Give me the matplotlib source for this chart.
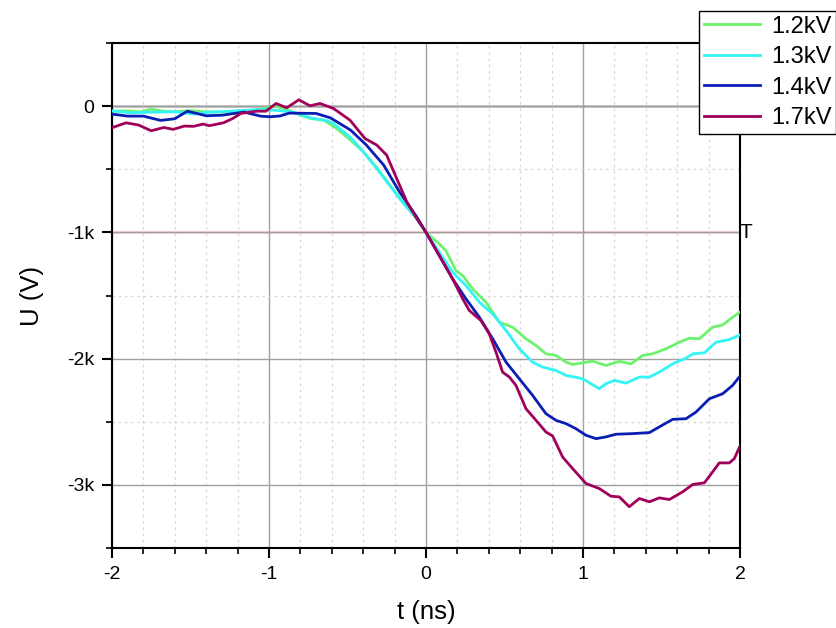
import numpy as np
import matplotlib
matplotlib.use("Agg")
from matplotlib import pyplot as plt
from matplotlib.ticker import MultipleLocator, FixedLocator

# --- data (t in ns, U in V) ---
t12 = [-2.0, -1.91, -1.82, -1.75, -1.67, -1.6, -1.5, -1.4, -1.3, -1.2, -1.1, -0.96, -0.89,
       -0.8, -0.74, -0.65, -0.57, -0.48, -0.4, -0.31, -0.23, -0.15, -0.06, 0.0,
       0.085, 0.127, 0.191, 0.234, 0.297, 0.382, 0.467, 0.552, 0.637, 0.701, 0.764, 0.828,
       0.892, 0.934, 0.998, 1.062, 1.146, 1.231, 1.306, 1.38, 1.444, 1.529, 1.614, 1.677,
       1.741, 1.826, 1.89, 1.953, 2.0]
u12 = [-40, -37, -45, -24, -40, -45, -35, -45, -47, -40, -35, 0, -25,
       -71, -97, -111, -176, -269, -361, -493, -625, -756, -888, -1000,
       -1092, -1145, -1303, -1343, -1448, -1553, -1711, -1751, -1843, -1896, -1962, -1975,
       -2028, -2046, -2033, -2020, -2054, -2022, -2041, -1975, -1962, -1922, -1870, -1838,
       -1843, -1751, -1733, -1672, -1632]

t13 = [-2.0, -1.88, -1.75, -1.6, -1.48, -1.4, -1.2, -1.05, -0.94, -0.85, -0.72, -0.63, -0.59,
       -0.48, -0.4, -0.31, -0.23, -0.15, -0.06, 0.0,
       0.085, 0.17, 0.255, 0.34, 0.425, 0.51, 0.594, 0.679, 0.743, 0.828, 0.892, 0.998,
       1.051, 1.104, 1.146, 1.2, 1.274, 1.359, 1.423, 1.486, 1.571, 1.656, 1.699, 1.773,
       1.847, 1.932, 2.0]
u13 = [-37, -53, -48, -45, -63, -50, -37, -26, -35, -47, -97, -116, -137,
       -250, -360, -500, -630, -760, -890, -1000,
       -1158, -1316, -1422, -1553, -1646, -1777, -1922, -2028, -2067, -2094, -2133, -2159,
       -2199, -2238, -2199, -2173, -2194, -2146, -2146, -2107, -2041, -1996, -1962, -1954,
       -1870, -1849, -1812]

t14 = [-2.0, -1.9, -1.8, -1.69, -1.6, -1.52, -1.4, -1.3, -1.16, -1.05, -0.99, -0.93, -0.87,
       -0.7, -0.61, -0.48, -0.38, -0.27, -0.17, -0.06, 0.0,
       0.085, 0.17, 0.255, 0.34, 0.425, 0.51, 0.594, 0.679, 0.764, 0.828, 0.892, 0.955,
       1.019, 1.083, 1.146, 1.21, 1.316, 1.423, 1.486, 1.571, 1.656, 1.72, 1.805, 1.89,
       1.953, 2.0]
u14 = [-63, -79, -79, -113, -100, -40, -76, -72, -47, -80, -84, -78, -55,
       -58, -92, -190, -308, -466, -677, -875, -1000,
       -1184, -1369, -1527, -1672, -1843, -2028, -2159, -2291, -2436, -2489, -2515, -2555,
       -2607, -2634, -2620, -2599, -2594, -2586, -2541, -2481, -2476, -2423, -2318, -2278,
       -2212, -2138]

t17 = [-2.0, -1.91, -1.83, -1.75, -1.67, -1.61, -1.54, -1.48, -1.42, -1.38, -1.29, -1.23,
       -1.18, -1.08, -1.02, -0.955, -0.887, -0.81, -0.739, -0.675, -0.59, -0.484, -0.389,
       -0.314, -0.251, -0.187, -0.123, -0.06, 0.0,
       0.085, 0.17, 0.234, 0.276, 0.35, 0.403, 0.446, 0.488, 0.531, 0.573, 0.637, 0.701,
       0.764, 0.807, 0.87, 0.934, 1.019, 1.104, 1.178, 1.231, 1.295, 1.359, 1.423, 1.486,
       1.55, 1.635, 1.699, 1.773, 1.826, 1.868, 1.932, 1.964, 2.0]
u17 = [-171, -132, -150, -195, -169, -184, -158, -160, -142, -155, -132, -97,
       -58, -40, -40, 21, -13, 50, 3, 21, -18, -111, -256,
       -308, -387, -572, -756, -888, -1000,
       -1184, -1369, -1527, -1619, -1698, -1804, -1949, -2107, -2146, -2212, -2397, -2489,
       -2581, -2613, -2779, -2871, -2989, -3029, -3090, -3095, -3173, -3108, -3134, -3103,
       -3116, -3055, -2997, -2984, -2897, -2826, -2826, -2792, -2692]

labels = ["1.2kV", "1.3kV", "1.4kV", "1.7kV"]
colors = ["#6ef26e", "#33f4f4", "#0a1eb4", "#a0005a"]
trigger = -1000

y_ticks = [0, -1000, -2000, -3000]
y_ticklabels = ["0", "-1k", "-2k", "-3k"]


def main():
    plt.rcParams['font.family'] = ['Liberation Sans', 'DejaVu Sans']
    plt.rcParams['axes.unicode_minus'] = False
    fig = plt.figure(figsize=(8.37, 6.28), dpi=100)
    ax = fig.add_axes([0.1338, 0.1274, 0.7503, 0.8041])

    # grids
    ax.xaxis.set_minor_locator(MultipleLocator(0.2))
    ax.yaxis.set_minor_locator(MultipleLocator(500))
    ax.grid(which='minor', color='#d6d6d6', lw=0.9, ls=(0, (2, 3)))
    ax.grid(which='major', color='#a0a0a0', lw=1.0)
    ax.axhline(0, color='#c4c4c4', lw=2, zorder=1)
    ax.axhline(trigger, color='#e03030', lw=1.0, zorder=1)

    for t, u, lab, c in [(t12, u12, labels[0], colors[0]), (t13, u13, labels[1], colors[1]),
                         (t14, u14, labels[2], colors[2]), (t17, u17, labels[3], colors[3])]:
        ax.plot(t, u, color=c, lw=2, label=lab, zorder=3, solid_joinstyle='round')

    ax.set_xlim(-2, 2)
    ax.set_ylim(-3500, 500)
    ax.set_xticks([-2, -1, 0, 1, 2])
    ax.yaxis.set_major_locator(FixedLocator(y_ticks))
    ax.set_yticklabels(y_ticklabels)
    ax.tick_params(which='major', direction='out', length=7, width=1.5, labelsize=14, pad=6)
    ax.tick_params(which='minor', direction='out', length=4, width=1.2)
    for s in ax.spines.values():
        s.set_linewidth(1.5)
    ax.set_xlabel("t (ns)", fontsize=18.5, labelpad=12)
    ax.set_ylabel("U (V)", fontsize=18.5, labelpad=16)

    ax.text(2.0, trigger, "T", fontsize=15, va='center', ha='left', clip_on=False)

    fig.legend(loc='upper right', bbox_to_anchor=(0.999, 0.9825), fontsize=17,
               frameon=True, fancybox=False, edgecolor='black', framealpha=1,
               handlelength=2.4, handletextpad=0.45, borderpad=0.2, labelspacing=0.36,
               borderaxespad=0)
    fig.savefig("out.png", dpi=100)


if __name__ == '__main__':
    main()
